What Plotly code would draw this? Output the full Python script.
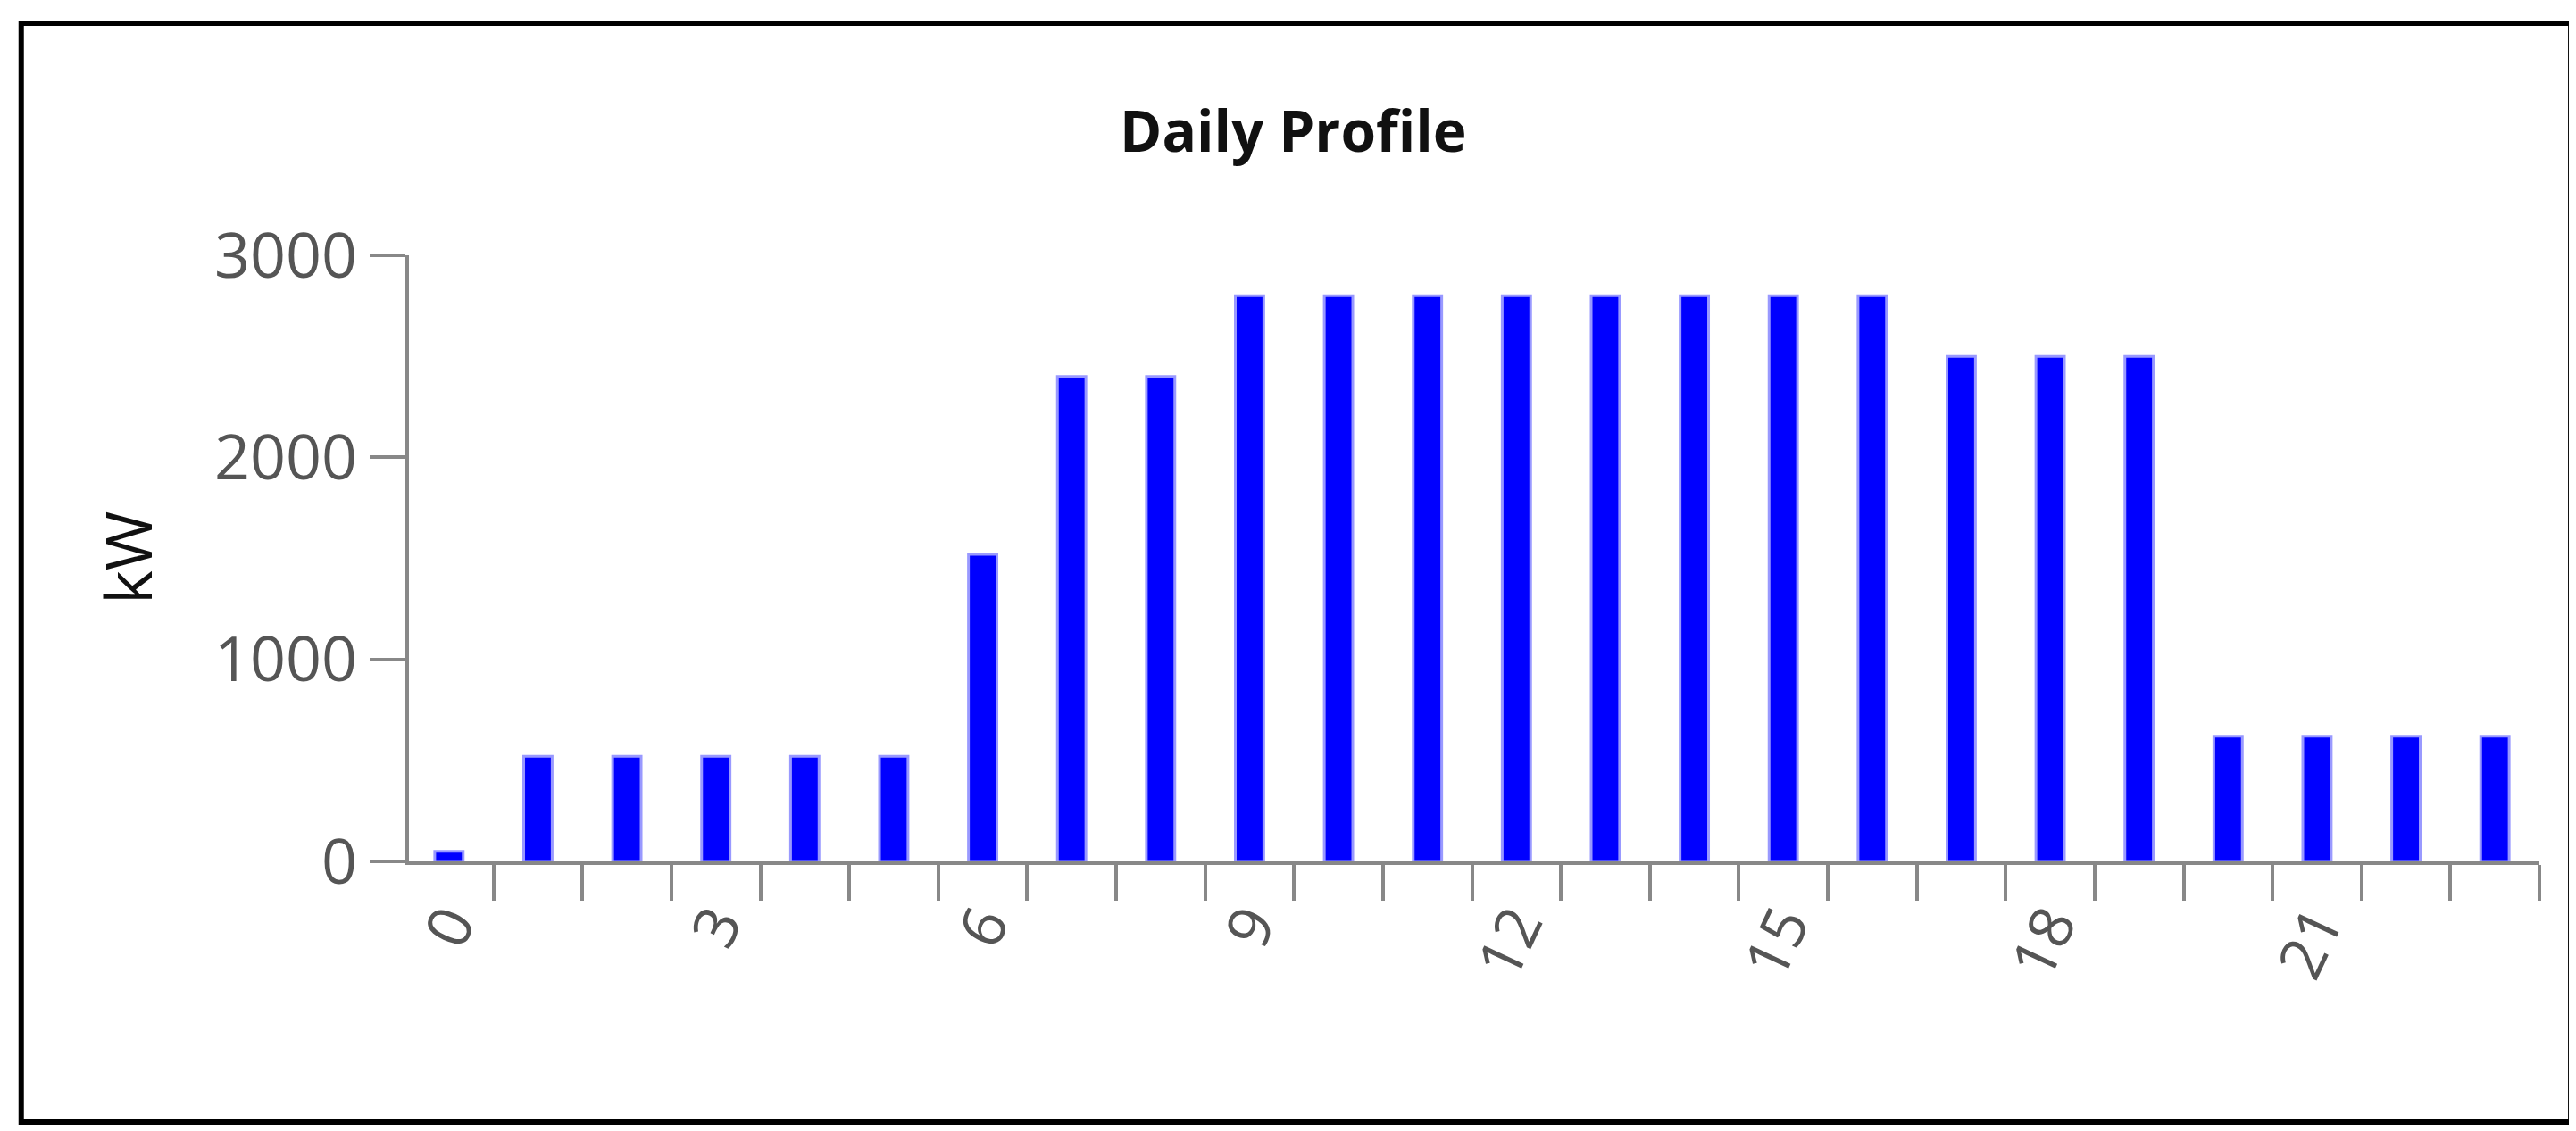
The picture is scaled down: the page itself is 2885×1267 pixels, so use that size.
import plotly.graph_objects as go

hours = list(range(24))
kw = [50, 520, 520, 520, 520, 520, 1520, 2400, 2400, 2800, 2800, 2800, 2800, 2800,
      2800, 2800, 2800, 2500, 2500, 2500, 620, 620, 620, 620]
xlabels = ["0", "3", "6", "9", "12", "15", "18", "21"]

fig = go.Figure(go.Bar(x=hours, y=kw, width=0.32,
                       marker=dict(color="#0000ff", line=dict(color="#9999ff", width=3))))

fig.update_layout(
    width=2885, height=1267, plot_bgcolor="white", paper_bgcolor="white",
    margin=dict(l=450, r=49, t=278, b=310), showlegend=False,
    font=dict(family="Open Sans", color="#555555"),
)
fig.update_xaxes(range=[-0.45, 23.5], tickmode="array",
                 tickvals=[int(v) for v in xlabels], ticktext=xlabels,
                 tickangle=-65, tickfont=dict(size=68), ticks="",
                 showline=True, linecolor="#888888", linewidth=4, showgrid=False,
                 minor=dict(ticks="outside", tick0=-0.5, dtick=1, ticklen=40,
                            tickwidth=4, tickcolor="#888888"))
fig.update_yaxes(range=[0, 3000], tickvals=[0, 1000, 2000, 3000],
                 tickfont=dict(size=70), ticks="outside", ticklen=40, tickwidth=4,
                 tickcolor="#888888", showline=True, linecolor="#888888",
                 linewidth=4, showgrid=False, zeroline=False)

fig.add_annotation(text="<b>Daily Profile</b>", xref="paper", yref="paper",
                   x=0.415, y=1.274, showarrow=False,
                   font=dict(size=64, color="#111111"))
fig.add_annotation(text="kW", xref="paper", yref="paper", x=-0.154, y=0.5,
                   textangle=-90, showarrow=False,
                   font=dict(size=72, color="#111111"))
fig.add_shape(type="rect", xref="paper", yref="paper", x0=-0.182, x1=1.0147,
              y0=-0.43, y1=1.383, line=dict(color="black", width=6))

fig.write_html("out.html")
